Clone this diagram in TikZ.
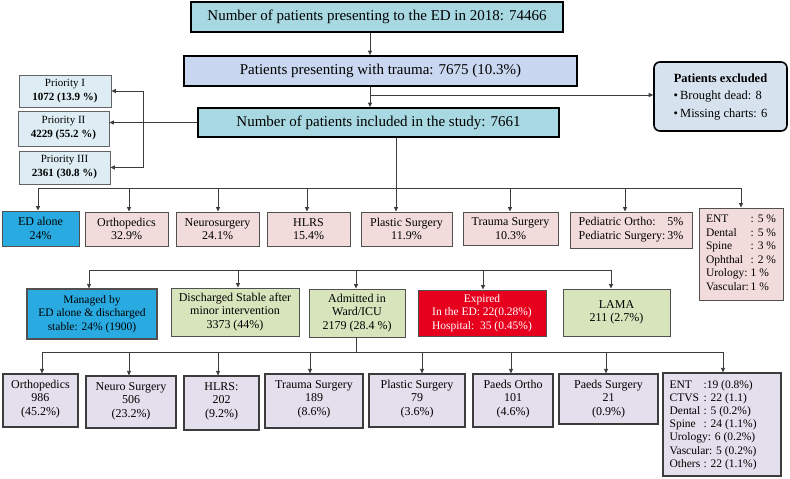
\documentclass[tikz,border=0pt]{standalone}
\usepackage{fontspec}
\setmainfont{Liberation Serif}
\usetikzlibrary{arrows.meta}
\definecolor{cTeal}{RGB}{168,217,226}
\definecolor{cBlueL}{RGB}{201,216,240}
\definecolor{cPrio}{RGB}{221,237,243}
\definecolor{cExcl}{RGB}{214,227,238}
\definecolor{cBlue}{RGB}{41,171,226}
\definecolor{cPink}{RGB}{242,220,219}
\definecolor{cGreen}{RGB}{215,228,188}
\definecolor{cRed}{RGB}{230,0,30}
\definecolor{cLav}{RGB}{228,223,236}
\definecolor{cLine}{RGB}{60,60,60}
\begin{document}
\begin{tikzpicture}[x=1pt,y=-1pt,
  bigbox/.style={draw=black, line width=1.8pt, inner sep=1pt, align=center, font=\fontsize{15}{18}\selectfont},
  priobox/.style={draw=cLine!80, line width=0.8pt, fill=cPrio, align=center, inner sep=1pt, font=\fontsize{11}{14}\selectfont},
  exbox/.style={draw=black, line width=1.6pt, rounded corners=6pt, fill=cExcl, inner sep=1pt, font=\fontsize{12.5}{15}\selectfont},
  rowbox/.style={draw=cLine!90, line width=0.9pt, align=center, inner sep=1pt, font=\fontsize{12}{13.5}\selectfont},
  lavbox/.style={draw=cLine, line width=1.2pt, fill=cLav, inner sep=0pt},
  lavtxt/.style={align=center, inner xsep=3pt, inner ysep=6.5pt, anchor=north, font=\fontsize{12}{13.5}\selectfont},
  arr/.style={-{Triangle[length=4.5pt,width=4pt]}, line width=0.8pt, draw=cLine},
  ln/.style={line width=0.8pt, draw=cLine}]
\useasboundingbox (0,0) rectangle (790,479);

% top boxes
\node[bigbox, fill=cTeal, minimum width=372pt, minimum height=30pt] (A) at (377,17) {Number of patients presenting to the ED in 2018: 74466};
\node[bigbox, fill=cBlueL, minimum width=393pt, minimum height=30pt] (B) at (380.5,71) {Patients presenting with trauma: 7675 (10.3\%)};
\node[bigbox, fill=cTeal, minimum width=361pt, minimum height=29pt] (C) at (378.5,122.5) {Number of patients included in the study: 7661};
\node[exbox, minimum width=133pt, minimum height=69pt] (E) at (720.5,96.5) {\begin{tabular}{@{}l@{}}\multicolumn{1}{@{}c@{}}{\textbf{Patients excluded}}\\[2.5pt] \textbullet\,Brought dead: 8\\[2.5pt] \textbullet\,Missing charts: 6\end{tabular}};

% priority boxes
\node[priobox, minimum width=92pt, minimum height=32pt] (P1) at (65,91) {Priority I\\ \textbf{1072 (13.9 \%)}};
\node[priobox, minimum width=91pt, minimum height=35pt] (P2) at (63.5,128.5) {Priority II\\ \textbf{4229 (55.2 \%)}};
\node[priobox, minimum width=91pt, minimum height=33pt] (P3) at (64.5,167.5) {Priority III\\ \textbf{2361 (30.8 \%)}};

% row 2
\node[rowbox, fill=cBlue, minimum width=77pt, minimum height=35pt] (ED) at (40.5,228.5) {ED alone\\24\%};
\node[rowbox, fill=cPink, minimum width=83pt, minimum height=34pt] (Or) at (126.5,229) {Orthopedics\\32.9\%};
\node[rowbox, fill=cPink, minimum width=83pt, minimum height=34pt] (Ne) at (217.5,229) {Neurosurgery\\24.1\%};
\node[rowbox, fill=cPink, minimum width=83pt, minimum height=34pt] (HL) at (308.5,229) {HLRS\\15.4\%};
\node[rowbox, fill=cPink, minimum width=91pt, minimum height=34pt] (Pl) at (406.5,229) {Plastic Surgery\\11.9\%};
\node[rowbox, fill=cPink, minimum width=95pt, minimum height=33pt] (Tr) at (510.5,228.5) {Trauma Surgery\\10.3\%};
\node[rowbox, fill=cPink, minimum width=122pt, minimum height=36pt] (Pe) at (631,230) {\begin{tabular}{@{}l@{\,}r@{}}Pediatric Ortho: & 5\%\\ Pediatric Surgery: & 3\%\end{tabular}};
\node[rowbox, fill=cPink, minimum width=84pt, minimum height=92pt, font=\fontsize{11.5}{13.5}\selectfont] (En) at (741,254) {\begin{tabular}{@{}l@{\,}l@{}}ENT & : 5 \%\\ Dental & : 5 \%\\ Spine & : 3 \%\\ Ophthal & : 2 \%\\ Urology: & 1 \%\\ Vascular: & 1 \%\end{tabular}};

% row 3
\node[rowbox, fill=cBlue, line width=1.2pt, minimum width=130pt, minimum height=50pt, font=\fontsize{11.5}{13.5}\selectfont] (M) at (92,314) {Managed by\\ED alone \& discharged\\stable: 24\% (1900)};
\node[rowbox, fill=cGreen, minimum width=128pt, minimum height=48pt] (D) at (235,312) {Discharged Stable after\\minor intervention\\3373 (44\%)};
\node[rowbox, fill=cGreen, minimum width=96pt, minimum height=48pt] (Ad) at (357,313) {Admitted in\\Ward/ICU\\2179 (28.4 \%)};
\node[rowbox, fill=cRed, text=white, minimum width=128pt, minimum height=46pt, font=\fontsize{11.5}{13.5}\selectfont] (Ex) at (482,313) {\begin{tabular}{@{}l@{}}\multicolumn{1}{@{}c@{}}{Expired}\\ In the ED: 22(0.28\%)\\ Hospital:\ \ 35 (0.45\%)\end{tabular}};
\node[rowbox, fill=cGreen, minimum width=107pt, minimum height=47pt] (LA) at (616.5,312.5) {LAMA\\211 (2.7\%)};

% row 4
\node[lavbox, minimum width=75pt, minimum height=53pt] (o4) at (40.5,400.5) {};
\node[lavtxt] (o4t) at (o4.north) {Orthopedics\\986\\(45.2\%)};
\node[lavbox, minimum width=90pt, minimum height=52pt] (n4) at (131,402) {};
\node[lavtxt] (n4t) at (n4.north) {Neuro Surgery\\506\\(23.2\%)};
\node[lavbox, minimum width=75pt, minimum height=54pt] (h4) at (221.5,403) {};
\node[lavtxt] (h4t) at (h4.north) {HLRS:\\202\\(9.2\%)};
\node[lavbox, minimum width=98pt, minimum height=54pt] (t4) at (314,401) {};
\node[lavtxt] (t4t) at (t4.north) {Trauma Surgery\\189\\(8.6\%)};
\node[lavbox, minimum width=96pt, minimum height=53pt] (p4) at (417,400.5) {};
\node[lavtxt] (p4t) at (p4.north) {Plastic Surgery\\79\\(3.6\%)};
\node[lavbox, minimum width=80pt, minimum height=53pt] (po) at (513,400.5) {};
\node[lavtxt] (pot) at (po.north) {Paeds Ortho\\101\\(4.6\%)};
\node[lavbox, minimum width=99pt, minimum height=50pt] (ps) at (608.5,399) {};
\node[lavtxt] (pst) at (ps.north) {Paeds Surgery\\21\\(0.9\%)};
\node[lavbox, minimum width=118pt, minimum height=103pt] (e4) at (722,424.5) {};
\node[lavtxt, anchor=north west, align=left, inner xsep=7pt, inner ysep=7.5pt, font=\fontsize{11.5}{13.2}\selectfont] (e4t) at (e4.north west) {%
\makebox[34pt][l]{ENT}:19 (0.8\%)\\
\makebox[34pt][l]{CTVS}: 22 (1.1)\\
\makebox[34pt][l]{Dental}: 5 (0.2\%)\\
\makebox[34pt][l]{Spine}: 24 (1.1\%)\\
Urology: 6 (0.2\%)\\
Vascular: 5 (0.2\%)\\
\makebox[34pt][l]{Others}: 22 (1.1\%)};

% connectors top
\coordinate (ax) at (370,0);
\draw[arr] (A.south -| ax) -- (B.north -| ax);
\draw[arr] (B.south -| ax) -- (C.north -| ax);
\coordinate (ex) at (370,95);
\draw[arr] (ex) -- (ex -| E.west);
\draw[arr] (C.west) -- (C.west -| P2.east);
\coordinate (pv) at (143,125);
\draw[ln] (pv |- P1.east) -- (pv |- P3.east);
\draw[arr] (pv |- P1.east) -- (P1.east);
\draw[arr] (pv |- P3.east) -- (P3.east);

% bus row 2
\coordinate (cx) at (396,188);
\coordinate (b2L) at (38,188);
\coordinate (b2R) at (741,188);
\draw[ln] (C.south -| cx) -- (cx);
\draw[ln] (b2L) -- (b2R);
\foreach \x/\n in {38/ED,129/Or,218/Ne,307/HL,396/Pl,510/Tr,625/Pe,741/En}{
  \coordinate (tmp) at (\x,188);
  \draw[arr] (tmp) -- (tmp |- \n.north);
}

% bus row 3
\coordinate (b3L) at (89,270);
\coordinate (b3R) at (611,270);
\draw[ln] (b3L) -- (b3R);
\foreach \x/\n in {89/M,238/D,356/Ad,483/Ex,611/LA}{
  \coordinate (tmp) at (\x,270);
  \draw[arr] (tmp) -- (tmp |- \n.north);
}

% bus row 4
\coordinate (adx) at (356,352);
\coordinate (b4L) at (42,352);
\coordinate (b4R) at (723,352);
\draw[ln] (Ad.south -| adx) -- (adx);
\draw[ln] (b4L) -- (b4R);
\foreach \x/\n in {42/o4,129/n4,218/h4,310/t4,422/p4,511/po,606/ps,723/e4}{
  \coordinate (tmp) at (\x,352);
  \draw[arr] (tmp) -- (tmp |- \n.north);
}
\end{tikzpicture}
\end{document}
